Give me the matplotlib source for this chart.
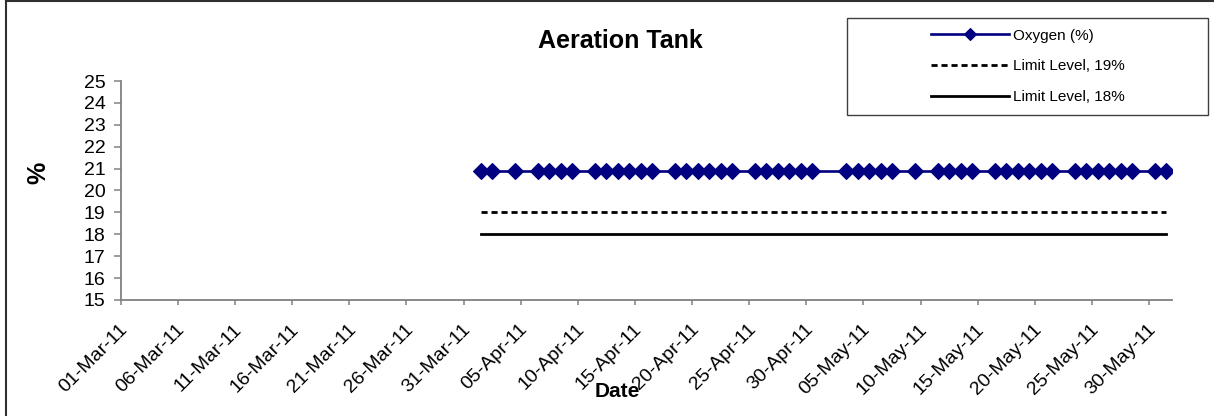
import matplotlib
matplotlib.use("Agg")
import matplotlib.pyplot as plt
import matplotlib.dates as mdates
from matplotlib.lines import Line2D
from matplotlib.patches import Rectangle
from matplotlib.transforms import ScaledTranslation
import pandas as pd

plt.rcParams['font.family'] = ['Liberation Sans', 'DejaVu Sans']

# ---------------- data ----------------
dates = [
    "2011-04-01", "2011-04-02", "2011-04-04", "2011-04-06", "2011-04-07", "2011-04-08", "2011-04-09",
    "2011-04-11", "2011-04-12", "2011-04-13", "2011-04-14", "2011-04-15", "2011-04-16",
    "2011-04-18", "2011-04-19", "2011-04-20", "2011-04-21", "2011-04-22", "2011-04-23",
    "2011-04-25", "2011-04-26", "2011-04-27", "2011-04-28", "2011-04-29", "2011-04-30",
    "2011-05-03", "2011-05-04", "2011-05-05", "2011-05-06", "2011-05-07", "2011-05-09",
    "2011-05-11", "2011-05-12", "2011-05-13", "2011-05-14",
    "2011-05-16", "2011-05-17", "2011-05-18", "2011-05-19", "2011-05-20", "2011-05-21",
    "2011-05-23", "2011-05-24", "2011-05-25", "2011-05-26", "2011-05-27", "2011-05-28",
    "2011-05-30", "2011-05-31",
]
oxygen = [20.9, 20.9, 20.9, 20.9, 20.9, 20.9, 20.9,
          20.9, 20.9, 20.9, 20.9, 20.9, 20.9,
          20.9, 20.9, 20.9, 20.9, 20.9, 20.9,
          20.9, 20.9, 20.9, 20.9, 20.9, 20.9,
          20.9, 20.9, 20.9, 20.9, 20.9, 20.9,
          20.9, 20.9, 20.9, 20.9,
          20.9, 20.9, 20.9, 20.9, 20.9, 20.9,
          20.9, 20.9, 20.9, 20.9, 20.9, 20.9,
          20.9, 20.9]
limit19 = [19, 19, 19, 19, 19, 19, 19,
           19, 19, 19, 19, 19, 19,
           19, 19, 19, 19, 19, 19,
           19, 19, 19, 19, 19, 19,
           19, 19, 19, 19, 19, 19,
           19, 19, 19, 19,
           19, 19, 19, 19, 19, 19,
           19, 19, 19, 19, 19, 19,
           19, 19]
limit18 = [18, 18, 18, 18, 18, 18, 18,
           18, 18, 18, 18, 18, 18,
           18, 18, 18, 18, 18, 18,
           18, 18, 18, 18, 18, 18,
           18, 18, 18, 18, 18, 18,
           18, 18, 18, 18,
           18, 18, 18, 18, 18, 18,
           18, 18, 18, 18, 18, 18,
           18, 18]
tick_dates = ["2011-03-01", "2011-03-06", "2011-03-11", "2011-03-16", "2011-03-21", "2011-03-26",
              "2011-03-31", "2011-04-05", "2011-04-10", "2011-04-15", "2011-04-20", "2011-04-25",
              "2011-04-30", "2011-05-05", "2011-05-10", "2011-05-15", "2011-05-20", "2011-05-25",
              "2011-05-30"]
x_min, x_max = "2011-03-01", "2011-05-31"
y_ticks = [15, 16, 17, 18, 19, 20, 21, 22, 23, 24, 25]
labels = ["Oxygen (%)", "Limit Level, 19%", "Limit Level, 18%"]

# ---------------- figure ----------------
W, H, DPI = 1214, 416, 100
fig = plt.figure(figsize=(W / DPI, H / DPI), dpi=DPI)
fig.patch.set_facecolor("white")

def fx(px):
    return px / W

def fy(py):
    return 1 - py / H

ax_l, ax_r, ax_t, ax_b = 120.7, 1172, 81, 300
ax = fig.add_axes([fx(ax_l), fy(ax_b), fx(ax_r - ax_l), (ax_b - ax_t) / H])

x = mdates.date2num(pd.to_datetime(dates))
ax.plot(x, oxygen, color="#000080", lw=1.9, marker="D", ms=8.0,
        mec="#000080", mfc="#000080", mew=0.8, label=labels[0], zorder=3)
ax.plot(x, limit19, color="black", lw=2.0, linestyle=(0, (2.2, 1.4)), label=labels[1])
ax.plot(x, limit18, color="black", lw=2.0, linestyle="-", label=labels[2])

# date axis: points sit mid-day, ticks at day boundaries
half = 0.5
ax.set_xlim(mdates.date2num(pd.Timestamp(x_min)) - half, mdates.date2num(pd.Timestamp(x_max)) + half)
tnum = mdates.date2num(pd.to_datetime(tick_dates)) - half
ax.set_xticks(tnum)
ax.set_xticklabels([pd.Timestamp(t).strftime("%d-%b-%y") for t in tick_dates])
ax.set_ylim(15, 25)
ax.set_yticks(y_ticks)

for s in ["top", "right"]:
    ax.spines[s].set_visible(False)
for s in ["left", "bottom"]:
    ax.spines[s].set_color("#808080")
    ax.spines[s].set_linewidth(1.3)

ax.tick_params(axis="y", direction="out", length=5, width=1.1, color="#808080",
               labelsize=14, pad=6)
ax.tick_params(axis="x", direction="out", length=3.6, width=1.1, color="#808080",
               labelsize=14, pad=15.8)
off = ScaledTranslation(4 / DPI, 0, fig.dpi_scale_trans)
for lab in ax.get_xticklabels():
    lab.set_rotation(45)
    lab.set_rotation_mode("anchor")
    lab.set_ha("right")
    lab.set_va("center")
    lab.set_transform(lab.get_transform() + off)

# titles
fig.text(fx(620), fy(48), "Aeration Tank", ha="center", va="baseline",
         fontsize=18, fontweight="bold")
fig.text(fx(617), fy(397), "Date", ha="center", va="baseline",
         fontsize=15, fontweight="bold")
fig.text(fx(38), fy(173), "%", ha="center", va="center", rotation=90,
         fontsize=18, fontweight="bold")

# legend (frameless) with separate box
leg = fig.legend(loc="center", bbox_to_anchor=(fx(1028), fy(66.5)), frameon=False,
                 fontsize=11, handlelength=5.1, handletextpad=0.25, labelspacing=1.1,
                 markerscale=0.75, borderpad=0, borderaxespad=0)
fig.add_artist(Rectangle((fx(847), fy(115)), fx(1208 - 847), (115 - 18) / H,
                         transform=fig.transFigure, fill=False, edgecolor="#404040", lw=1.0))

# chart area border (top & left visible)
fig.add_artist(Line2D([fx(6), fx(6)], [fy(1), 0], transform=fig.transFigure,
                      color="#303030", lw=1.5))
fig.add_artist(Line2D([fx(6), 1], [fy(1), fy(1)], transform=fig.transFigure,
                      color="#303030", lw=1.5))

fig.savefig("out.png", dpi=DPI, facecolor="white")
